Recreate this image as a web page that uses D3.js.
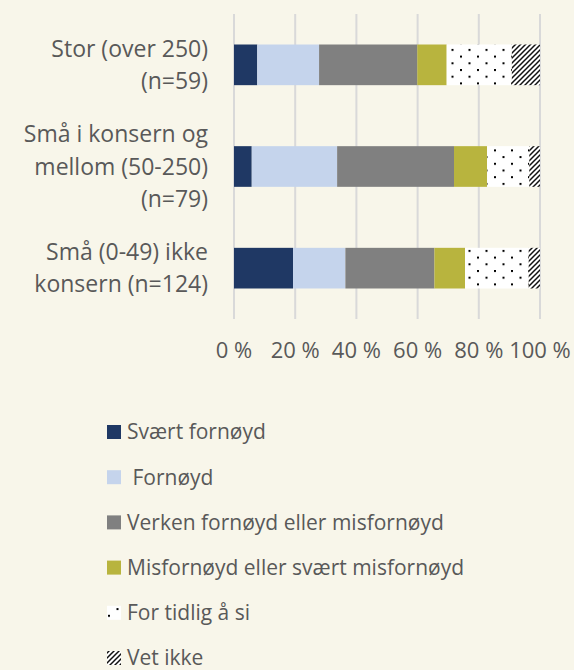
<!DOCTYPE html>
<html>
<head>
<meta charset="utf-8">
<script src="https://cdn.jsdelivr.net/npm/d3@7"></script>
<style>
  html, body { margin: 0; padding: 0; background: #f8f6ea; }
  svg { display: block; }
  text { font-family: "Open Sans", sans-serif; fill: #595959; }
</style>
</head>
<body>
<div class="main"></div>
<script>
// categories (top to bottom), each label split into lines
var categories = ["Stor (over 250) (n=59)", "Små i konsern og mellom (50-250) (n=79)", "Små (0-49) ikke konsern (n=124)"];
var categoryLines = [
  ["Stor (over 250)", "(n=59)"],
  ["Små i konsern og", "mellom (50-250)", "(n=79)"],
  ["Små (0-49) ikke", "konsern (n=124)"]
];
var seriesNames = ["Svært fornøyd", " Fornøyd", "Verken fornøyd eller misfornøyd", "Misfornøyd eller svært misfornøyd", "For tidlig å si", "Vet ikke"];
var svaertFornoyd = [7.6, 5.8, 19.3];
var fornoyd = [20.2, 27.9, 17.1];
var verken = [32.1, 38.2, 29.1];
var misfornoyd = [9.6, 10.8, 10.0];
var forTidlig = [21.3, 13.8, 20.8];
var vetIkke = [9.2, 3.5, 3.7];
var tickValues = [0, 20, 40, 60, 80, 100];

function BuildGraph() {
  var fullwidth = 574, fullheight = 670;
  var svg = d3.select(".main")
    .append("svg")
    .attr("width", fullwidth)
    .attr("height", fullheight);

  // patterns for the last two series
  var defs = svg.append("defs");
  var dots = defs.append("pattern")
    .attr("id", "dots")
    .attr("patternUnits", "userSpaceOnUse")
    .attr("width", 17).attr("height", 13.4)
    .attr("x", 1).attr("y", 2);
  dots.append("rect").attr("width", 17).attr("height", 13.4).attr("fill", "#fff");
  dots.append("rect").attr("x", 0).attr("y", 0).attr("width", 2).attr("height", 2).attr("fill", "#000");
  dots.append("rect").attr("x", 8.5).attr("y", 6.7).attr("width", 2).attr("height", 2).attr("fill", "#000");

  var hatch = defs.append("pattern")
    .attr("id", "hatch")
    .attr("patternUnits", "userSpaceOnUse")
    .attr("width", 5).attr("height", 5);
  hatch.append("rect").attr("width", 5).attr("height", 5).attr("fill", "#fff");
  hatch.append("path")
    .attr("d", "M-1,6 L6,-1 M-1,1 L1,-1 M4,6 L6,4")
    .attr("stroke", "#111")
    .attr("stroke-width", 1.5);

  var fills = ["#1f3864", "#c5d4ec", "#808080", "#b8b43e", "url(#dots)", "url(#hatch)"];
  var series = [svaertFornoyd, fornoyd, verken, misfornoyd, forTidlig, vetIkke];

  var x = d3.scaleLinear().domain([0, 100]).range([234, 540]);
  var y = d3.scaleBand().domain(categories).range([14, 319]).paddingInner(0.6).paddingOuter(0.3);

  // gridlines
  svg.append("g")
    .selectAll("line")
    .data(tickValues)
    .join("line")
    .attr("x1", d => x(d)).attr("x2", d => x(d))
    .attr("y1", 14).attr("y2", 319)
    .attr("stroke", "#d9d9d9")
    .attr("stroke-width", 2);

  // stacked bars
  var rows = categories.map(function(c, i) {
    var obj = { cat: c };
    seriesNames.forEach(function(s, j) { obj[s] = series[j][i]; });
    return obj;
  });
  var stack = d3.stack().keys(seriesNames)(rows);

  svg.append("g")
    .selectAll("g")
    .data(stack)
    .join("g")
    .attr("fill", (d, i) => fills[i])
    .selectAll("rect")
    .data(d => d)
    .join("rect")
    .attr("x", d => x(d[0]))
    .attr("width", d => x(d[1]) - x(d[0]))
    .attr("y", d => y(d.data.cat))
    .attr("height", y.bandwidth());

  // category labels
  var lineH = 32.5;
  var labels = svg.append("g").selectAll("text")
    .data(categories)
    .join("text")
    .attr("text-anchor", "end")
    .attr("font-size", 23);
  labels.each(function(c, i) {
    var lines = categoryLines[i];
    var cy = y(c) + y.bandwidth() / 2;
    var top = cy - (lines.length - 1) * lineH / 2;
    d3.select(this).selectAll("tspan")
      .data(lines)
      .join("tspan")
      .attr("x", 208)
      .attr("y", (d, k) => top + k * lineH)
      .attr("dy", "0.35em")
      .text(d => d);
  });

  // x tick labels
  svg.append("g").selectAll("text")
    .data(tickValues)
    .join("text")
    .attr("x", d => x(d))
    .attr("y", 350)
    .attr("dy", "0.35em")
    .attr("text-anchor", "middle")
    .attr("font-size", 22)
    .text(d => d + " %");

  // legend
  var legend = svg.append("g").selectAll("g")
    .data(seriesNames)
    .join("g")
    .attr("transform", (d, i) => "translate(107," + (432 + i * 45.2) + ")");
  legend.append("rect")
    .attr("x", 0).attr("y", -7)
    .attr("width", 14).attr("height", 14)
    .attr("fill", (d, i) => fills[i]);
  legend.append("text")
    .attr("x", 20)
    .attr("dy", "0.35em")
    .attr("font-size", 21)
    .attr("xml:space", "preserve")
    .style("white-space", "pre")
    .text(d => d);
}

BuildGraph();
</script>
</body>
</html>
